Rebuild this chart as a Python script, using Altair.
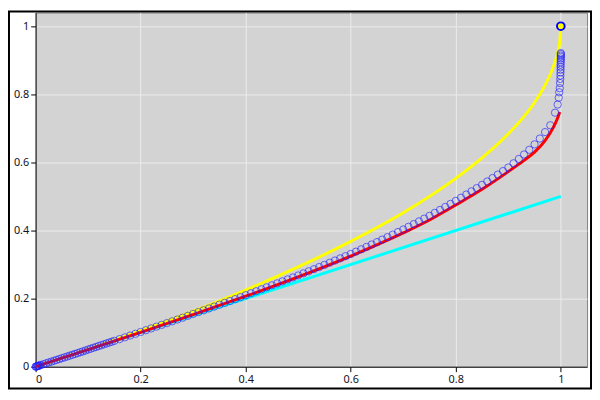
import altair as alt
import pandas as pd

# cyan line
cyan_x = [0.0, 1.0]
cyan_y = [0.0, 0.5]

# yellow line
yellow_x = [0.0, 0.1, 0.2, 0.3, 0.4, 0.5, 0.6, 0.7, 0.8, 0.85, 0.9, 0.93, 0.95, 0.97, 0.98, 0.99, 0.995, 0.998, 1.0]
yellow_y = [0.0, 0.051, 0.106, 0.163, 0.225, 0.293, 0.368, 0.452, 0.553, 0.613, 0.684, 0.735, 0.776, 0.827, 0.859, 0.900, 0.929, 0.955, 1.0]

# red line
red_x = [0.0, 0.1, 0.2, 0.3, 0.4, 0.5, 0.6, 0.7, 0.75, 0.8, 0.85, 0.9, 0.93, 0.95, 0.97, 0.98, 0.99, 0.995, 0.998]
red_y = [0.0, 0.050, 0.101, 0.153, 0.207, 0.264, 0.325, 0.393, 0.431, 0.475, 0.521, 0.573, 0.606, 0.630, 0.664, 0.687, 0.716, 0.735, 0.748]

# blue circles
circ_x = [0.0, 0.001, 0.002, 0.003, 0.004, 0.006, 0.008,
          0.005, 0.015, 0.025, 0.035, 0.045, 0.055, 0.065, 0.075, 0.085, 0.095,
          0.105, 0.115, 0.125, 0.135, 0.145,
          0.01, 0.02, 0.03, 0.04, 0.05, 0.06, 0.07, 0.08, 0.09, 0.10,
          0.11, 0.12, 0.13, 0.14, 0.15, 0.16, 0.17, 0.18, 0.19, 0.20,
          0.21, 0.22, 0.23, 0.24, 0.25, 0.26, 0.27, 0.28, 0.29, 0.30,
          0.31, 0.32, 0.33, 0.34, 0.35, 0.36, 0.37, 0.38, 0.39, 0.40,
          0.41, 0.42, 0.43, 0.44, 0.45, 0.46, 0.47, 0.48, 0.49, 0.50,
          0.51, 0.52, 0.53, 0.54, 0.55, 0.56, 0.57, 0.58, 0.59, 0.60,
          0.61, 0.62, 0.63, 0.64, 0.65, 0.66, 0.67, 0.68, 0.69, 0.70,
          0.71, 0.72, 0.73, 0.74, 0.75, 0.76, 0.77, 0.78, 0.79, 0.80,
          0.81, 0.82, 0.83, 0.84, 0.85, 0.86, 0.87, 0.88, 0.89, 0.90,
          0.91, 0.92, 0.93, 0.94, 0.95, 0.96, 0.97, 0.98,
          0.989, 0.994, 0.996, 0.997, 0.998, 0.9985,
          0.999, 0.9992, 0.9994, 0.9995, 0.9996, 0.9997, 0.9998, 0.9999,
          0.99993, 0.99996, 0.99998, 1.0, 1.0]
circ_y = [0.0, 0.0005, 0.001, 0.0015, 0.002, 0.003, 0.004,
          0.0025, 0.0075, 0.0125, 0.0175, 0.0225, 0.0275, 0.0325, 0.0375, 0.0425, 0.0477,
          0.053, 0.0581, 0.0632, 0.0683, 0.0734,
          0.005, 0.010, 0.015, 0.020, 0.025, 0.030, 0.035, 0.040, 0.045, 0.0505,
          0.0556, 0.0607, 0.0658, 0.0709, 0.076, 0.0811, 0.0863, 0.0915, 0.0967, 0.102,
          0.1072, 0.1124, 0.1176, 0.1228, 0.128, 0.1333, 0.1386, 0.1440, 0.1495, 0.155,
          0.1604, 0.1658, 0.1712, 0.1766, 0.182, 0.1875, 0.1930, 0.1986, 0.2043, 0.210,
          0.2158, 0.2216, 0.2274, 0.2332, 0.239, 0.2448, 0.2506, 0.2564, 0.2622, 0.268,
          0.2741, 0.2802, 0.2864, 0.2927, 0.299, 0.3054, 0.3118, 0.3182, 0.3246, 0.331,
          0.3379, 0.3448, 0.3518, 0.3589, 0.366, 0.3733, 0.3806, 0.3880, 0.3955, 0.403,
          0.4109, 0.4188, 0.4268, 0.4349, 0.443, 0.4517, 0.4604, 0.4692, 0.4781, 0.487,
          0.4963, 0.5056, 0.5150, 0.5245, 0.534, 0.5440, 0.5540, 0.5642, 0.5745, 0.585,
          0.5974, 0.610, 0.6233, 0.637, 0.653, 0.670, 0.689, 0.709,
          0.746, 0.770, 0.790, 0.806, 0.818, 0.833,
          0.845, 0.855, 0.864, 0.872, 0.880, 0.887, 0.894, 0.900,
          0.905, 0.910, 0.914, 0.918, 0.921]

# end point
end_x = [1.0]
end_y = [1.0]

ticks = [0, 0.2, 0.4, 0.6, 0.8, 1]

xs = alt.Scale(domain=[0, 1.05], nice=False, zero=False)
ys = alt.Scale(domain=[0, 1.04], nice=False, zero=False)

common = dict(values=ticks, format="~g", title=None, domainColor="black", tickColor="black",
              tickSize=5, labelPadding=2, gridColor="#ececec", labelFontSize=11,
              labelColor="#111122", labelFont="Noto Sans")
xax = alt.Axis(**common)
yax = alt.Axis(**common)

def line_df(xv, yv):
    return pd.DataFrame({"x": xv, "y": yv})

X = alt.X("x:Q", scale=xs, axis=xax)
Y = alt.Y("y:Q", scale=ys, axis=yax)

cyan = alt.Chart(line_df(cyan_x, cyan_y)).mark_line(color="#00ffff", strokeWidth=3).encode(x=X, y=Y)
yellow = alt.Chart(line_df(yellow_x, yellow_y)).mark_line(color="#ffff00", strokeWidth=3, interpolate="monotone").encode(x=X, y=Y)
red = alt.Chart(line_df(red_x, red_y)).mark_line(color="#ff0000", strokeWidth=3, interpolate="monotone").encode(x=X, y=Y)
circles = alt.Chart(line_df(circ_x, circ_y)).mark_point(shape="circle", filled=False, color="#2020ff",
                                                       opacity=0.65, size=55, strokeWidth=1).encode(x=X, y=Y)
endpt = alt.Chart(line_df(end_x, end_y)).mark_point(shape="circle", filled=True, fill="#ffff00",
                                                   stroke="#0000ff", strokeWidth=2, opacity=1, size=60).encode(x=X, y=Y)

PL, PT, PR, PB = 28, 2, 5, 23
W, H = 592 - PL - PR, 359

frame = alt.Chart(pd.DataFrame({"a": [0]})).mark_rect(fill=None, stroke="black", strokeWidth=2).encode(
    x=alt.value(-PL + 1), x2=alt.value(W + PR - 1), y=alt.value(-PT + 1), y2=alt.value(H + PB - 1)
)

chart = alt.layer(cyan, yellow, red, circles, endpt, frame).properties(
    width=W, height=H,
    autosize=alt.AutoSizeParams(type="none"),
    padding={"left": PL, "top": PT, "right": PR, "bottom": PB},
    background="white",
).configure_view(fill="#d3d3d3", stroke="#808080", strokeWidth=1)

chart.save("out.html", embed_options={"renderer": "svg", "actions": False})
